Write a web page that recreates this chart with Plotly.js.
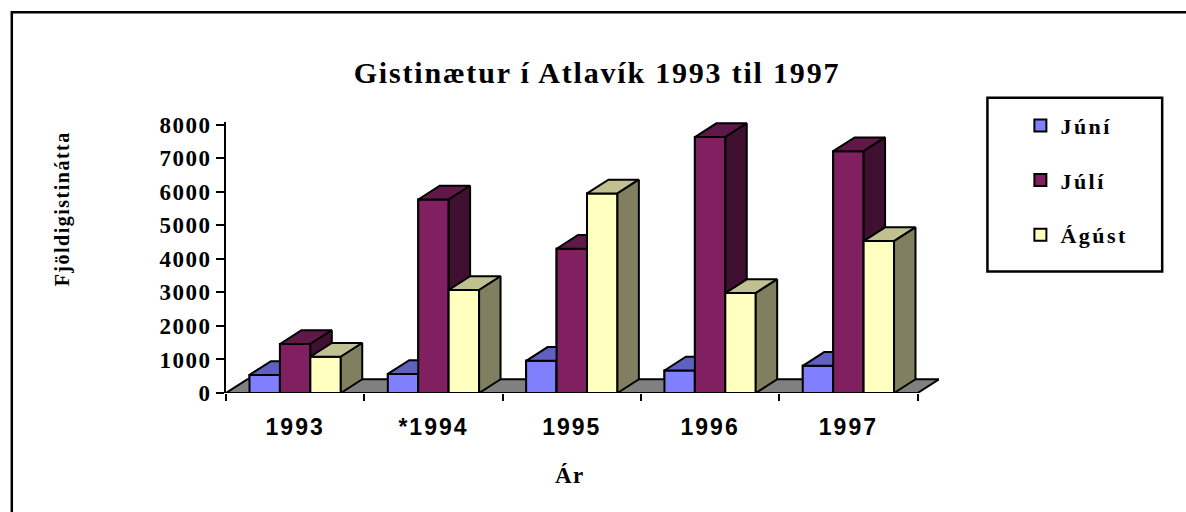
<!DOCTYPE html>
<html><head><meta charset="utf-8">
<script src="https://cdn.plot.ly/plotly-3.0.1.min.js"></script>
<style>
html,body{margin:0;padding:0;background:#fff;}
#chart{width:1186px;height:512px;}
.gtitle{letter-spacing:1.8px;}
.ytick text{letter-spacing:1.5px;}
.xtick text{letter-spacing:2px;}
.legendtext{letter-spacing:2.5px;}
.annotation-text{letter-spacing:1.5px;}
</style></head><body><div id="chart"></div>
<script>
// ---- data ----
const years = ['1993', '*1994', '1995', '1996', '1997'];
const seriesNames = ['Júní', 'Júlí', 'Ágúst'];
const juni = [540, 570, 960, 670, 810];
const juli = [1460, 5770, 4300, 7630, 7210];
const agust = [1080, 3070, 5950, 2980, 4530];
const yTickVals = [0, 1000, 2000, 3000, 4000, 5000, 6000, 7000, 8000];
const titleText = 'Gistinætur í Atlavík 1993 til 1997';
const yTitleText = 'Fjöldigistinátta';
const xTitleText = 'Ár';

// ---- style ----
const frontColors = ['#8080FF', '#802060', '#FFFFC0'];
const topColors = ['#6060C0', '#601848', '#C0C090'];
const sideColors = ['#404080', '#401030', '#808060'];
const floorColor = '#808080';
const barW = 0.22, offsets = [-0.33, -0.11, 0.11];
const depthX = 0.155, depthY = 410;

const W = 1186, H = 512, L = 225.5, R = 246.5, T = 122.3, B = 118.5;
const xRange = [-0.5, years.length - 0.5 + depthX];
const yRange = [0, 8080];
const pw = W - L - R, ph = H - T - B;
const px2paperX = px => (px - L) / pw;
const px2paperY = py => (H - B - py) / ph;

const allSeries = [juni, juli, agust];
const idx = years.map((_, i) => i);
const traces = [];

// legend / base bars (covered by 3D faces)
allSeries.forEach((vals, s) => {
  traces.push({
    type: 'bar', x: idx, y: vals, name: seriesNames[s], width: barW, offset: offsets[s],
    marker: {color: frontColors[s], line: {color: '#000', width: 2}},
    legendgroup: 'g' + s, hoverinfo: 'skip'
  });
});

function poly(xs, ys, fill) {
  return {type: 'scatter', mode: 'lines', x: xs, y: ys, fill: 'toself', fillcolor: fill,
    line: {color: '#000', width: 2}, showlegend: false, hoverinfo: 'skip', connectgaps: false};
}

// floor
const n = years.length;
traces.push(poly([-0.5, n - 0.5, n - 0.5 + depthX, -0.5 + depthX, -0.5],
                 [0, 0, depthY, depthY, 0], floorColor));

// 3D faces in painter order
allSeries.forEach((vals, s) => {
  const fx = [], fy = [], tx = [], ty = [], sx = [], sy = [];
  vals.forEach((v, i) => {
    const x0 = i + offsets[s], x1 = x0 + barW;
    fx.push(x0, x1, x1, x0, x0, null); fy.push(0, 0, v, v, 0, null);
    tx.push(x0, x1, x1 + depthX, x0 + depthX, x0, null);
    ty.push(v, v, v + depthY, v + depthY, v, null);
    sx.push(x1, x1 + depthX, x1 + depthX, x1, x1, null);
    sy.push(0, depthY, v + depthY, v, 0, null);
  });
  traces.push(poly(fx, fy, frontColors[s]));
  traces.push(poly(tx, ty, topColors[s]));
  traces.push(poly(sx, sy, sideColors[s]));
});

const serifBold = {family: 'Liberation Serif, Times New Roman, serif', weight: 'bold', color: '#000'};

const layout = {
  width: W, height: H,
  margin: {l: L, r: R, t: T, b: B, pad: 0},
  paper_bgcolor: '#fff', plot_bgcolor: 'rgba(0,0,0,0)',
  barmode: 'overlay',
  title: {text: titleText, x: 597 / W, xref: 'container', xanchor: 'center',
          y: 1 - 72 / H, yref: 'container', yanchor: 'middle',
          font: Object.assign({size: 30}, serifBold)},
  xaxis: {
    range: xRange, showgrid: false, zeroline: false, showline: false,
    tickmode: 'array', tickvals: idx, ticktext: years, ticks: '',
    ticklabelstandoff: 18,
    tickfont: {family: 'Liberation Sans, Arial, sans-serif', weight: 'bold', size: 23, color: '#000'},
    minor: {tickmode: 'array', tickvals: idx.concat([n]).map(i => i - 0.5), ticks: 'outside',
            ticklen: 7, tickwidth: 2, tickcolor: '#000', showgrid: false},
    fixedrange: true
  },
  yaxis: {
    range: yRange, showgrid: false, zeroline: false, showline: true, linecolor: '#000', linewidth: 2,
    tickmode: 'array', tickvals: yTickVals, ticks: 'outside', ticklen: 8, tickwidth: 2, tickcolor: '#000',
    ticklabelstandoff: 0,
    tickfont: Object.assign({size: 23}, serifBold),
    fixedrange: true
  },
  legend: {
    x: px2paperX(1021), xanchor: 'left', y: px2paperY(105), yanchor: 'top',
    font: Object.assign({size: 22}, serifBold),
    bgcolor: 'rgba(0,0,0,0)', borderwidth: 0, tracegroupgap: 23, itemwidth: 30, traceorder: 'grouped'
  },
  annotations: [
    {text: yTitleText, xref: 'paper', yref: 'paper', x: px2paperX(62), y: px2paperY(209),
     xanchor: 'center', yanchor: 'middle', textangle: -90, showarrow: false,
     font: Object.assign({size: 20}, serifBold)},
    {text: xTitleText, xref: 'paper', yref: 'paper', x: px2paperX(570), y: px2paperY(476),
     xanchor: 'center', yanchor: 'middle', showarrow: false,
     font: Object.assign({size: 23}, serifBold)}
  ],
  shapes: [
    {type: 'rect', xref: 'paper', yref: 'paper', x0: px2paperX(11), x1: px2paperX(1300),
     y0: px2paperY(12.5), y1: px2paperY(700), line: {color: '#000', width: 2.5}, fillcolor: 'rgba(0,0,0,0)'},
    {type: 'rect', xref: 'paper', yref: 'paper', x0: px2paperX(988), x1: px2paperX(1163),
     y0: px2paperY(98), y1: px2paperY(272), line: {color: '#000', width: 2.5}, fillcolor: 'rgba(0,0,0,0)'}
  ],
  showlegend: true
};

Plotly.newPlot('chart', traces, layout, {staticPlot: true, displayModeBar: false});
</script></body></html>
